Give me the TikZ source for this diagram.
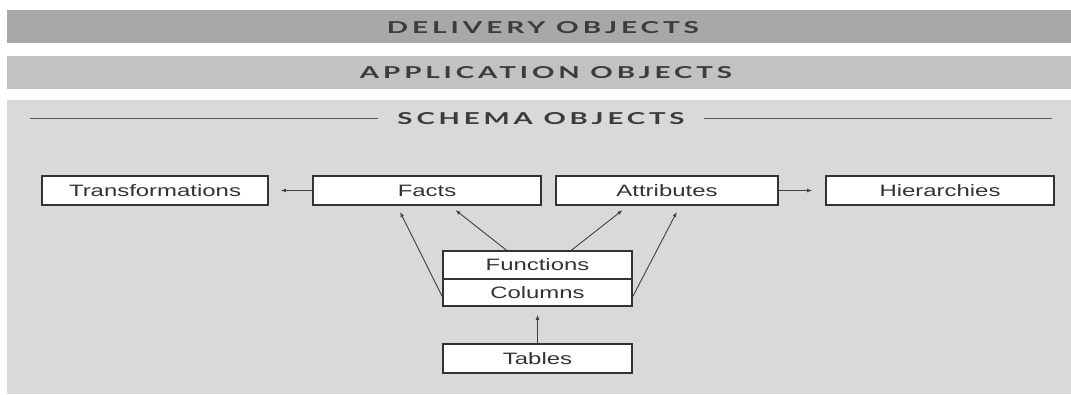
\documentclass[tikz,border=0pt]{standalone}
\usepackage{graphicx}
\usepackage{fontspec}
\usetikzlibrary{arrows.meta}
\newfontfamily\boxfont[FakeStretch=1.45]{Liberation Sans}
\newfontfamily\headfont[LetterSpace=14]{Lato}
\definecolor{deliverygray}{HTML}{A8A8A8}
\definecolor{appgray}{HTML}{C2C2C2}
\definecolor{schemagray}{HTML}{D9D9D9}
\definecolor{inkgray}{HTML}{333333}
\definecolor{headink}{HTML}{3C3C3C}
\definecolor{rulegray}{HTML}{5A5A5A}
% letter-spaced caption of a layer, fitted to a given width
\newcommand{\headtext}[2]{\resizebox{#1}{12pt}{\headfont\bfseries #2}}
\begin{document}
\begin{tikzpicture}[x=1pt,y=-1pt,
  objbox/.style={draw=black!80, line width=1.6pt, fill=white, minimum height=29pt,
    inner sep=0pt, text=inkgray, font=\boxfont\fontsize{16.5}{18}\selectfont},
  headlbl/.style={inner sep=0pt, text=headink},
  arr/.style={draw=black!75, line width=0.9pt, -{Latex[length=5pt,width=3.8pt]}},
  layerrule/.style={draw=rulegray, line width=1pt}]
\useasboundingbox (0,0) rectangle (1071,394);
\fill[white] (0,0) rectangle (1071,394);

% layer bands
\fill[deliverygray] (7,10) rectangle (1071,43);
\fill[appgray] (7,56) rectangle (1071,89);
\fill[schemagray] (7,100) rectangle (1071,394);

\node[headlbl] (deliv) at (543,28) {\headtext{312pt}{DELIVERY OBJECTS}};
\node[headlbl] (appl) at (546,73) {\headtext{372pt}{APPLICATION OBJECTS}};
\node[headlbl, inner xsep=19pt] (schema) at (541,119) {\headtext{287pt}{SCHEMA OBJECTS}};
\coordinate (ruleL) at (30,118);
\coordinate (ruleR) at (1052,118);
\draw[layerrule] (ruleL) -- (ruleL -| schema.west);
\draw[layerrule] (ruleR -| schema.east) -- (ruleR);

% schema objects
\node[objbox, minimum width=226pt] (trans) at (155,190.5) {Transformations};
\node[objbox, minimum width=228pt] (facts) at (427,190.5) {Facts};
\node[objbox, minimum width=222pt] (attr) at (667,190.5) {Attributes};
\node[objbox, minimum width=228pt] (hier) at (940,190.5) {Hierarchies};
\node[objbox, minimum width=189pt, minimum height=28pt] (func) at (537.5,265) {Functions};
\node[objbox, minimum width=189pt, minimum height=27pt] (cols) at (537.5,292.5) {Columns};
\node[objbox, minimum width=189pt] (tabs) at (537.5,358.5) {Tables};

% dependencies
\draw[arr, shorten >=12pt] (facts.west) -- (trans.east);
\draw[arr, shorten >=13pt] (attr.east) -- (hier.west);
\draw[arr, shorten >=8pt] (tabs.north) -- (cols.south);
\draw[arr, shorten >=7pt] ([yshift=-4pt]cols.west) -- ([xshift=-30pt]facts.south);
\draw[arr, shorten >=7pt] ([xshift=-31pt]func.north) -- ([xshift=23pt]facts.south);
\draw[arr, shorten >=7pt] ([xshift=34pt]func.north) -- ([xshift=-39pt]attr.south);
\draw[arr, shorten >=7pt] ([yshift=-4pt]cols.east) -- ([xshift=13pt]attr.south);
\end{tikzpicture}
\end{document}
